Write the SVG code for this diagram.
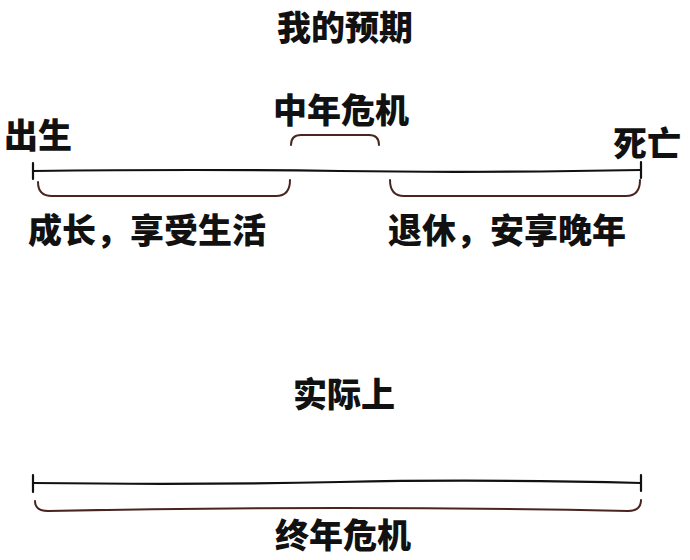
<svg xmlns="http://www.w3.org/2000/svg" width="690" height="560" viewBox="0 0 690 560">
<style>
text{font-family:"Noto Sans CJK SC","Noto Sans",sans-serif;font-weight:900;font-size:34px;fill:#111}
.mid{text-anchor:middle}
.line{stroke:#111;stroke-width:2.2;fill:none;stroke-linecap:round}
.brace{stroke:#4a2520;stroke-width:2;fill:none;stroke-linecap:round}
</style>
<rect width="690" height="560" fill="#fff"/>
<g id="title"><text class="mid" x="345" y="40">我的预期</text></g>
<g id="connectors">
<path class="line" d="M33,171 Q200,169 340,171 T641,170"/>
<path class="line" d="M33,163 V179 M641,162 V178"/>
<path class="brace" d="M291,145 Q291,135 301,135 H369 Q379,135 379,145"/>
<path class="brace" d="M38,182 Q38,196 52,196 H276 Q290,196 290,180"/>
<path class="brace" d="M390,180 Q390,196 404,196 H626 Q640,196 640,180"/>
<path class="line" d="M33,483 Q200,485 340,482 T641,483"/>
<path class="line" d="M33,475 V492 M641,475 V491"/>
<path class="brace" d="M35,501 Q35,511 48,511 Q340,505 628,511 Q641,511 641,500"/>
</g>
<g id="birth"><text x="4" y="148">出生</text></g>
<g id="midlife"><text class="mid" x="341" y="123">中年危机</text></g>
<g id="death"><text x="613" y="156">死亡</text></g>
<g id="growth"><text x="28" y="243">成长，享受生活</text></g>
<g id="retire"><text x="388" y="243">退休，安享晚年</text></g>
<g id="actual"><text class="mid" x="344" y="407">实际上</text></g>
<g id="lifelong"><text class="mid" x="343" y="548">终年危机</text></g>
</svg>
